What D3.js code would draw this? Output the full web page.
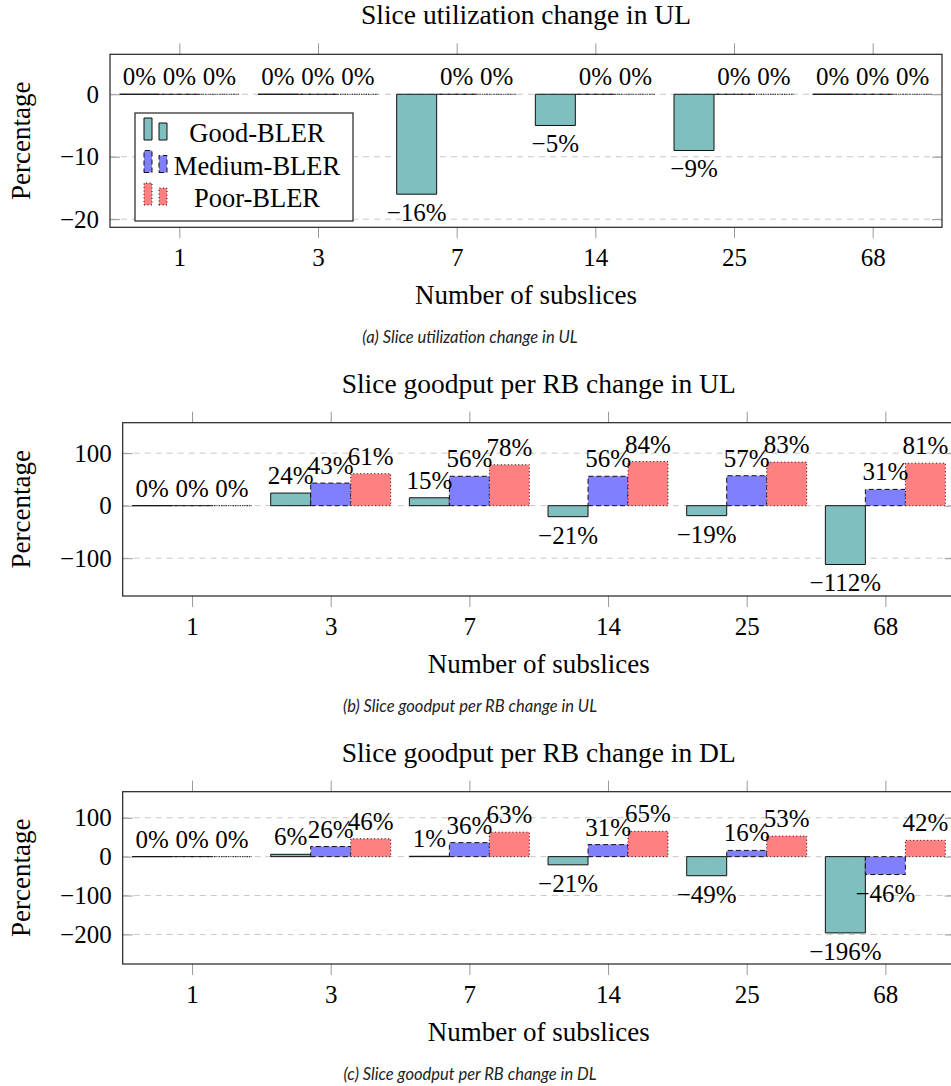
<!DOCTYPE html>
<html>
<head>
<meta charset="utf-8">
<script src="https://cdn.jsdelivr.net/npm/d3@7"></script>
<style>
  body { margin: 0; background: #fff; }
  svg { display: block; }
</style>
</head>
<body>
<script>
// categories and series
const categories = ["1", "3", "7", "14", "25", "68"];
const series = ["Good-BLER", "Medium-BLER", "Poor-BLER"];

// (a) slice utilization change in UL
const utilUlGood = [0, 0, -16, -5, -9, 0];
const utilUlMedium = [0, 0, 0, 0, 0, 0];
const utilUlPoor = [0, 0, 0, 0, 0, 0];

// (b) slice goodput per RB change in UL
const goodputUlGood = [0, 24, 15, -21, -19, -112];
const goodputUlMedium = [0, 43, 56, 56, 57, 31];
const goodputUlPoor = [0, 61, 78, 84, 83, 81];

// (c) slice goodput per RB change in DL
const goodputDlGood = [0, 6, 1, -21, -49, -196];
const goodputDlMedium = [0, 26, 36, 31, 16, -46];
const goodputDlPoor = [0, 46, 63, 65, 53, 42];

// y tick labels
const utilUlTicks = [0, -10, -20];
const goodputUlTicks = [100, 0, -100];
const goodputDlTicks = [100, 0, -100, -200];

const styles = {
  "Good-BLER":   { fill: "#80bfbf", dash: null },
  "Medium-BLER": { fill: "#8080ff", dash: "5,3" },
  "Poor-BLER":   { fill: "#ff8080", dash: "1,2.5" }
};

const textFont = '"Liberation Serif"';
const fmt = v => (v < 0 ? "\u2212" + Math.abs(v) : "" + v);

const svg = d3.select("body").append("svg")
  .attr("width", 951)
  .attr("height", 1086);

function barPath(x0, w, y0, y1) {
  return `M${x0},${y0}H${x0 + w}V${y1}H${x0}Z`;
}

function drawPanel(p) {
  const width = 832;
  const x = d3.scalePoint().domain(categories).range([p.left, p.left + width]).padding(0.5);
  const xSub = d3.scaleBand().domain(series).range([-60, 60]);
  const y = d3.scaleLinear().domain(p.yDomain).range([p.bottom, p.top]);

  const g = svg.append("g");

  // title
  g.append("text")
    .attr("x", p.left + width / 2)
    .attr("y", p.top - 30)
    .attr("text-anchor", "middle")
    .attr("font-family", textFont)
    .attr("font-size", 27.5)
    .text(p.title);

  // grid
  g.append("g").selectAll("line")
    .data(p.yTicks)
    .join("line")
      .attr("x1", p.left).attr("x2", p.left + width)
      .attr("y1", d => y(d)).attr("y2", d => y(d))
      .attr("stroke", "#c8c8c8")
      .attr("stroke-width", 1)
      .attr("stroke-dasharray", "6,5");

  // bars
  const rows = categories.map((c, i) => ({ cat: c, values: series.map((s, j) => ({ s: s, v: p.values[j][i] })) }));

  const groups = g.append("g").selectAll("g")
    .data(rows)
    .join("g")
      .attr("transform", d => `translate(${x(d.cat)},0)`);

  groups.selectAll("path")
    .data(d => d.values)
    .join("path")
      .attr("d", d => barPath(xSub(d.s), xSub.bandwidth(), y(0), y(d.v)))
      .attr("fill", d => styles[d.s].fill)
      .attr("stroke", "#111")
      .attr("stroke-width", 1)
      .attr("stroke-dasharray", d => styles[d.s].dash);

  // value labels
  groups.selectAll("text")
    .data(d => d.values)
    .join("text")
      .attr("x", d => xSub(d.s) + xSub.bandwidth() / 2)
      .attr("y", d => d.v < 0 ? y(d.v) + 27 : y(d.v) - 9)
      .attr("text-anchor", "middle")
      .attr("font-family", textFont)
      .attr("font-size", 25)
      .text(d => fmt(d.v) + "%");

  // axes
  const xb = g.append("g")
    .attr("transform", `translate(0,${p.bottom})`)
    .call(d3.axisBottom(x).tickSize(11).tickPadding(10));
  const xt = g.append("g")
    .attr("transform", `translate(0,${p.top})`)
    .call(d3.axisTop(x).tickSize(11).tickFormat(""));
  const yl = g.append("g")
    .attr("transform", `translate(${p.left},0)`)
    .call(d3.axisLeft(y).tickValues(p.yTicks).tickSizeInner(-10).tickSizeOuter(0).tickPadding(11).tickFormat(fmt));
  const yr = g.append("g")
    .attr("transform", `translate(${p.left + width},0)`)
    .call(d3.axisRight(y).tickValues(p.yTicks).tickSizeInner(-10).tickSizeOuter(0).tickFormat(""));

  [xb, xt, yl, yr].forEach(a => {
    a.attr("font-family", textFont).attr("font-size", 25);
    a.select(".domain").remove();
    a.selectAll(".tick line").attr("stroke", "#999");
    a.selectAll("text").attr("fill", "#000");
  });

  // frame
  g.append("rect")
    .attr("x", p.left).attr("y", p.top)
    .attr("width", width).attr("height", p.bottom - p.top)
    .attr("fill", "none")
    .attr("stroke", "#222")
    .attr("stroke-width", 1.2);

  // axis titles
  g.append("text")
    .attr("x", p.left + width / 2)
    .attr("y", p.bottom + 77)
    .attr("text-anchor", "middle")
    .attr("font-family", textFont)
    .attr("font-size", 27)
    .text("Number of subslices");

  g.append("text")
    .attr("transform", `translate(30,${(p.top + p.bottom) / 2}) rotate(-90)`)
    .attr("text-anchor", "middle")
    .attr("font-family", textFont)
    .attr("font-size", 27)
    .text("Percentage");

  // caption
  g.append("text")
    .attr("x", 470)
    .attr("y", p.bottom + 116)
    .attr("text-anchor", "middle")
    .attr("fill", "#222")
    .attr("font-family", '"Lato"')
    .attr("font-style", "italic")
    .attr("font-size", 16.5)
    .text(p.caption);

  if (p.legend) drawLegend(g);
}

function drawLegend(g) {
  const lg = g.append("g").attr("transform", "translate(135,113)");
  lg.append("rect")
    .attr("width", 218).attr("height", 108)
    .attr("fill", "#fff")
    .attr("stroke", "#222")
    .attr("stroke-width", 1.2);

  const item = lg.selectAll("g.item")
    .data(series)
    .join("g")
      .attr("class", "item")
      .attr("transform", (d, i) => `translate(0,${27 + i * 32.5})`);

  item.append("path")
    .attr("d", barPath(9, 8, 0, -22))
    .attr("fill", d => styles[d].fill)
    .attr("stroke", "#111")
    .attr("stroke-dasharray", d => styles[d].dash);
  item.append("path")
    .attr("d", barPath(24, 8, 0, -17))
    .attr("fill", d => styles[d].fill)
    .attr("stroke", "#111")
    .attr("stroke-dasharray", d => styles[d].dash);

  item.append("text")
    .attr("x", 122)
    .attr("y", 2)
    .attr("text-anchor", "middle")
    .attr("font-family", textFont)
    .attr("font-size", 26.5)
    .text(d => d);
}

drawPanel({
  title: "Slice utilization change in UL",
  caption: "(a) Slice utilization change in UL",
  left: 110, top: 54.3, bottom: 227.3,
  yDomain: [-21.3, 6.4],
  yTicks: utilUlTicks,
  values: [utilUlGood, utilUlMedium, utilUlPoor],
  legend: true
});

drawPanel({
  title: "Slice goodput per RB change in UL",
  caption: "(b) Slice goodput per RB change in UL",
  left: 122.7, top: 422.7, bottom: 596,
  yDomain: [-172, 158],
  yTicks: goodputUlTicks,
  values: [goodputUlGood, goodputUlMedium, goodputUlPoor]
});

drawPanel({
  title: "Slice goodput per RB change in DL",
  caption: "(c) Slice goodput per RB change in DL",
  left: 122.7, top: 791.7, bottom: 964,
  yDomain: [-276, 167],
  yTicks: goodputDlTicks,
  values: [goodputDlGood, goodputDlMedium, goodputDlPoor]
});
</script>
</body>
</html>
